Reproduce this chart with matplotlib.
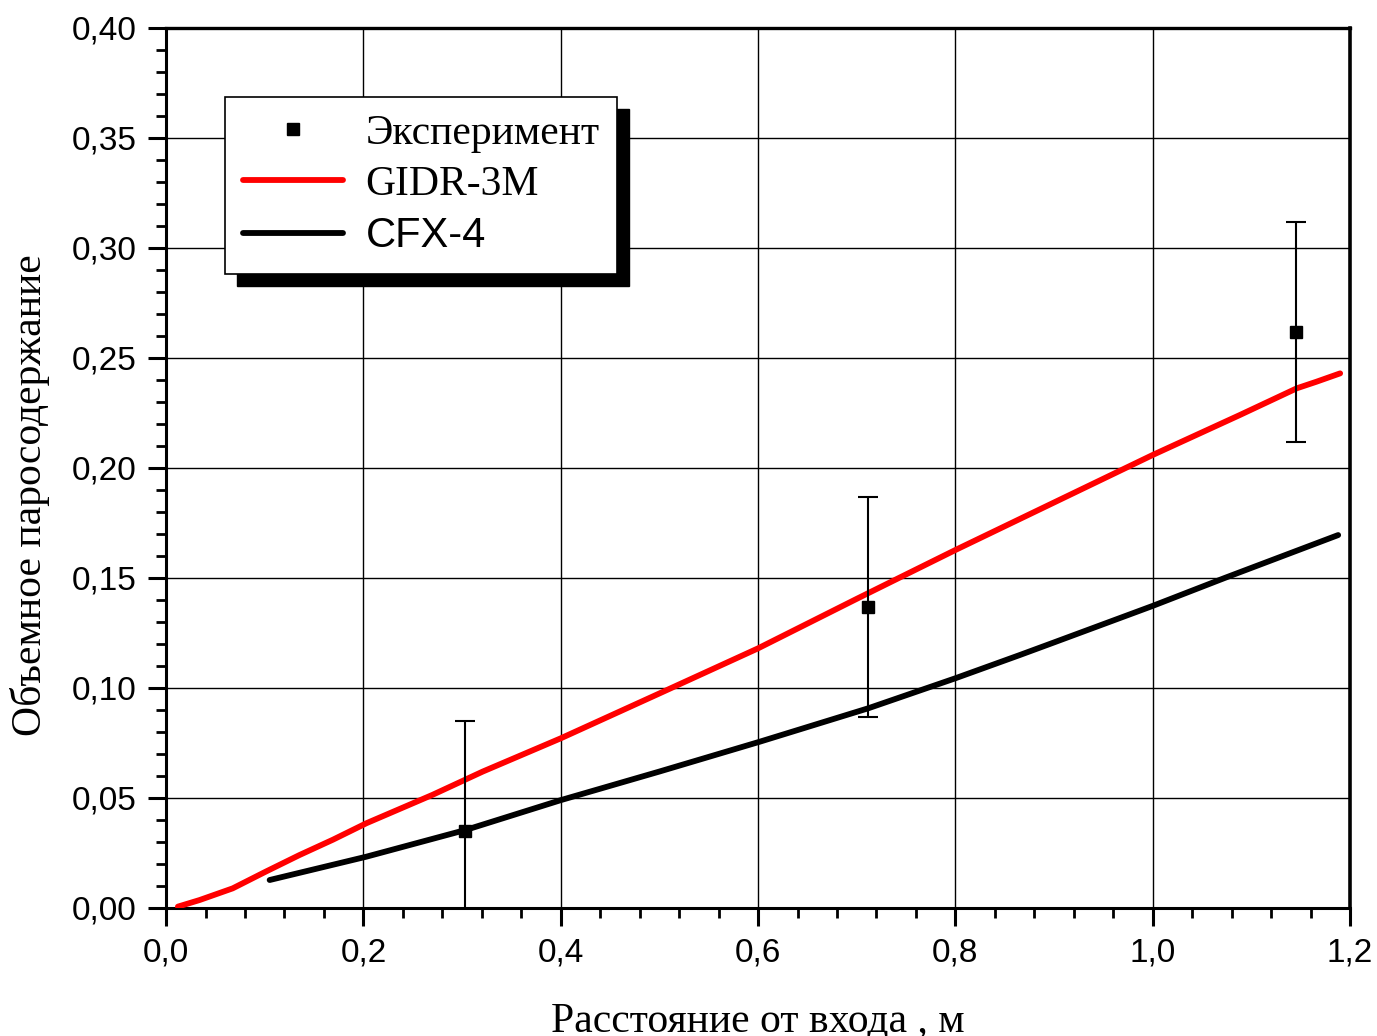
import matplotlib
matplotlib.use("Agg")
import matplotlib.pyplot as plt
import matplotlib.ticker as mticker
from matplotlib.lines import Line2D
from matplotlib.patches import Rectangle

# experiment
exp_x = [0.303, 0.711, 1.145]
exp_y = [0.035, 0.137, 0.262]
exp_err = [0.05, 0.05, 0.05]

# GIDR-3M
gidr_x = [0.012, 0.034, 0.0675, 0.101, 0.135, 0.169, 0.203, 0.27, 0.321, 0.40, 0.50,
          0.60, 0.70, 0.80, 0.90, 1.00, 1.0885, 1.146, 1.166, 1.19]
gidr_y = [0.0006, 0.0036, 0.0089, 0.0165, 0.024, 0.031, 0.0385, 0.0514, 0.062, 0.0771,
          0.0975, 0.118, 0.1405, 0.1627, 0.1843, 0.2059, 0.2241, 0.2362, 0.2392, 0.243]

# CFX-4
cfx_x = [0.105, 0.203, 0.304, 0.40, 0.50, 0.602, 0.712, 0.80, 0.8655, 0.90, 1.00, 1.073,
         1.188]
cfx_y = [0.0127, 0.0233, 0.0355, 0.049, 0.062, 0.0756, 0.0908, 0.1044, 0.115, 0.1207,
         0.1373, 0.150, 0.1695]

serif = "Liberation Serif"
sans = "Liberation Sans"


def comma_fmt(nd):
    return mticker.FuncFormatter(lambda v, p: (("%." + str(nd) + "f") % v).replace(".", ","))


def plotter():
    fig = plt.figure(figsize=(13.77, 10.36), dpi=100)
    ax = fig.add_axes([0.1206, 0.1236, 0.8598, 0.8494])

    ax.errorbar(exp_x, exp_y, yerr=exp_err, fmt="s", color="black", ms=8.5,
                elinewidth=1.5, capsize=7, capthick=1.5, zorder=4)
    ax.plot(gidr_x, gidr_y, color="#ff0000", lw=4.2, solid_capstyle="round",
            solid_joinstyle="round", zorder=3)
    ax.plot(cfx_x, cfx_y, color="black", lw=4.2, solid_capstyle="round",
            solid_joinstyle="round", zorder=3)

    ax.set_xlim(0, 1.2)
    ax.set_ylim(0, 0.40)
    ax.xaxis.set_major_locator(mticker.MultipleLocator(0.2))
    ax.xaxis.set_minor_locator(mticker.MultipleLocator(0.04))
    ax.yaxis.set_major_locator(mticker.MultipleLocator(0.05))
    ax.yaxis.set_minor_locator(mticker.MultipleLocator(0.01))
    ax.xaxis.set_major_formatter(comma_fmt(1))
    ax.yaxis.set_major_formatter(comma_fmt(2))
    ax.grid(True, which="major", color="black", lw=1.0)
    ax.set_axisbelow(True)

    ax.tick_params(which="major", length=13, width=2.2, labelsize=24, pad=8)
    ax.tick_params(which="minor", length=7, width=2.0)
    for lab in ax.get_xticklabels() + ax.get_yticklabels():
        lab.set_fontfamily(sans)
    for s in ["left", "bottom"]:
        ax.spines[s].set_linewidth(2.2)
    ax.spines["right"].set_linewidth(2.6)
    ax.spines["top"].set_linewidth(2.4)

    ax.set_xlabel("Расстояние от входа , м", fontsize=30, family=serif)
    ax.set_ylabel("Объемное паросодержание", fontsize=30, family=serif)
    ax.xaxis.set_label_coords(0.5, -0.107)
    ax.yaxis.set_label_coords(-0.098, 0.469)

    handles = [
        Line2D([], [], ls="none", marker="s", color="black", ms=8.5),
        Line2D([], [], color="#ff0000", lw=4.2, solid_capstyle="round"),
        Line2D([], [], color="black", lw=4.2, solid_capstyle="round"),
    ]
    labels = ["Эксперимент", "GIDR-3M", "CFX-4"]
    leg = ax.legend(handles, labels, loc="upper left", bbox_to_anchor=(0.0498, 0.9216),
                    borderaxespad=0, fancybox=False, framealpha=1, edgecolor="black",
                    prop={"family": serif, "size": 30}, handlelength=2.4,
                    handletextpad=0.55, borderpad=0.42, labelspacing=0.3)
    leg.get_frame().set_linewidth(1.2)
    leg.set_zorder(6)
    leg.get_texts()[2].set_fontfamily(sans)

    fig.canvas.draw()
    bb = leg.get_window_extent()
    shadow = Rectangle((bb.x0 + 12, bb.y0 - 12), bb.width, bb.height,
                       transform=None, color="black", zorder=5.9)
    ax.add_artist(shadow)

    fig.savefig("out.png", dpi=100)


def main():
    plotter()


if __name__ == '__main__':
    main()
